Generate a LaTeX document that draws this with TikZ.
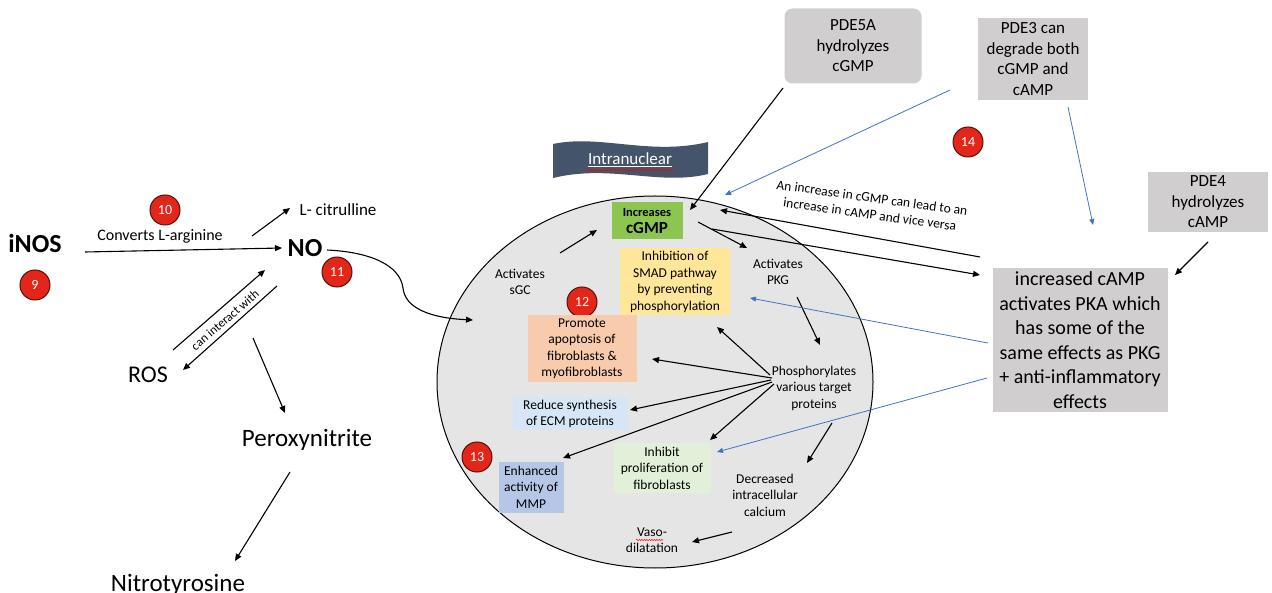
\documentclass[tikz,border=0pt]{standalone}
\usepackage{fontspec}
\setmainfont{Carlito}
\usetikzlibrary{shapes.geometric,arrows.meta,decorations.pathmorphing}
\definecolor{badgered}{RGB}{226,38,26}
\definecolor{badgeedge}{RGB}{90,15,10}
\definecolor{cellgray}{RGB}{229,229,229}
\definecolor{boxgray}{RGB}{208,206,206}
\definecolor{cgmpgreen}{RGB}{140,198,80}
\definecolor{smadyellow}{RGB}{255,230,153}
\definecolor{apoporange}{RGB}{248,203,173}
\definecolor{reduceblue}{RGB}{214,230,246}
\definecolor{mmpblue}{RGB}{180,199,231}
\definecolor{prolifgreen}{RGB}{226,240,217}
\definecolor{arrowblue}{RGB}{68,114,196}
\definecolor{banner}{RGB}{68,84,106}
\newcommand{\fsz}[2]{\fontsize{#1}{#2}\selectfont}
\begin{document}
\begin{tikzpicture}[x=1pt,y=-1pt,
  txt/.style={inner sep=0pt, align=center, text=black},
  small/.style={txt, font=\fsz{13.5}{16.5}},
  arr/.style={-{Triangle[length=7pt,width=6pt]}, line width=1.1pt},
  barr/.style={-{Triangle[length=6pt,width=5pt]}, line width=0.8pt, draw=arrowblue},
  badge/.style={circle, fill=badgered, draw=badgeedge, line width=1pt, minimum size=30pt, inner sep=0pt, text=white, font=\fsz{14}{14}},
  gbox/.style={txt, fill=boxgray, font=\fsz{17}{20.5}}
]
\useasboundingbox (0,0) rectangle (1272,593);

% ---------- left part ----------
\node[txt, font=\fsz{26}{26}\bfseries] (inos) at (35,243) {iNOS};
\node[badge] (b9) at (35,285) {9};
\node[badge] (b10) at (165,210) {10};
\node[txt, font=\fsz{16}{16}] (conv) at (160,236) {Converts L-arginine};
\node[txt, font=\fsz{26}{26}\bfseries] (no) at (305,248) {NO};
\node[txt, font=\fsz{17}{17}] (cit) at (338,210) {L- citrulline};
\node[badge] (b11) at (337,272) {11};
\node[txt, font=\fsz{24}{24}] (ros) at (148,375) {ROS};
\node[txt, font=\fsz{25}{25}] (perox) at (307,440) {Peroxynitrite};
\node[txt, font=\fsz{25}{25}, anchor=base] (nitro) at (178,591) {Nitrotyrosine};
\node[txt, font=\fsz{12.5}{12.5}, rotate=41] (inter) at (225,320) {can interact with};

\draw[arr] ([shift={(50,9)}]inos.center) -- ([shift={(-23,0)}]no.center);
\draw[arr] ([shift={(92,0)}]conv.center) -- ([shift={(-48,-2)}]cit.center);
\draw[arr] ([shift={(25,-25)}]ros.center) -- ([shift={(-40,22)}]no.center);
\draw[arr] ([shift={(-28,38)}]no.center) -- ([shift={(35,-5)}]ros.center);
\draw[arr] ([shift={(-52,90)}]no.center) -- ([shift={(-22,-27)}]perox.center);
\draw[arr] ([shift={(-17,32)}]perox.center) -- ([shift={(57,-30)}]nitro.base);

% ---------- cell ----------
\node[ellipse, draw, fill=cellgray, line width=1pt, minimum width=436pt, minimum height=372pt, inner sep=0pt] (cell) at (655,382) {};

\fill[banner] (553,144) .. controls (600,134) and (650,156) .. (708,142) -- (708,174) .. controls (660,186) and (610,164) .. (553,178) -- cycle;
\node[txt, text=white, font=\fsz{17}{17}] (intra) at (630,160) {\underline{Intranuclear}};
\draw[red, line width=0.6pt, decorate, decoration={snake, amplitude=0.7pt, segment length=3pt}] ([shift={(-44,10)}]intra.center) -- ([shift={(44,10)}]intra.center);

\draw[arr] ([shift={(22,2)}]no.center) .. controls (370,252) and (400,265) .. (403,288) .. controls (405,308) and (430,318) .. ([shift={(-182,-62)}]cell.center);

\node[txt, fill=cgmpgreen, minimum width=71pt, minimum height=37pt, font=\fsz{17}{17}\bfseries] (cgmp) at (647,221) {{\fsz{12.5}{14}Increases}\\cGMP};
\node[small] (sgc) at (520,282) {Activates\\sGC};
\node[small, fill=smadyellow, minimum width=110pt, minimum height=67pt] (smad) at (675,282) {Inhibition of\\SMAD pathway\\by preventing\\phosphorylation};
\node[small] (pkg) at (778,272) {Activates\\PKG};
\node[badge] (b12) at (582,302) {12};
\node[small, fill=apoporange, minimum width=109pt, minimum height=67pt] (apop) at (582,349) {Promote\\apoptosis of\\fibroblasts \&\\myofibroblasts};
\node[small] (phos) at (814,388) {Phosphorylates\\various target\\proteins};
\node[small, fill=reduceblue, minimum width=115pt, minimum height=33pt] (reduce) at (570,414) {Reduce synthesis\\of ECM proteins};
\node[badge] (b13) at (477,457) {13};
\node[small, fill=mmpblue, minimum width=65pt, minimum height=51pt] (mmp) at (531,487) {Enhanced\\activity of\\MMP};
\node[small, fill=prolifgreen, minimum width=97pt, minimum height=50pt] (prolif) at (662,468) {Inhibit\\proliferation of\\fibroblasts};
\node[small] (calc) at (765,495) {Decreased\\intracellular\\calcium};
\node[small] (vaso) at (652,540) {Vaso-\\dilatation};
\draw[red, line width=0.5pt, decorate, decoration={snake, amplitude=0.6pt, segment length=2.5pt}] ([shift={(-16,0)}]vaso.center) -- ([shift={(11,0)}]vaso.center);

\draw[arr] ([shift={(40,-29)}]sgc.center) -- ([shift={(-50,9)}]cgmp.center);
\draw[arr] ([shift={(51,1)}]cgmp.center) -- ([shift={(-31,-24)}]pkg.center);
\draw[arr] ([shift={(19,25)}]pkg.center) -- ([shift={(6,-43)}]phos.center);
\draw[arr] ([shift={(-44,-13)}]phos.center) -- ([shift={(42,45)}]smad.center);
\draw[arr] ([shift={(-42,-10)}]phos.center) -- ([shift={(70,10)}]apop.center);
\draw[arr] ([shift={(-43,-8)}]phos.center) -- ([shift={(60,-4)}]reduce.center);
\draw[arr] ([shift={(-42,-6)}]phos.center) -- ([shift={(32,-29)}]mmp.center);
\draw[arr] ([shift={(-40,-4)}]phos.center) -- ([shift={(48,-28)}]prolif.center);
\draw[arr] ([shift={(18,35)}]phos.center) -- ([shift={(42,-32)}]calc.center);
\draw[arr] ([shift={(-33,37)}]calc.center) -- ([shift={(40,2)}]vaso.center);

% ---------- right part ----------
\node[gbox, rounded corners=8pt, minimum width=137pt, minimum height=75pt] (pde5) at (853,46) {PDE5A\\hydrolyzes\\cGMP};
\node[gbox, minimum width=110pt, minimum height=82pt] (pde3) at (1033,59) {PDE3 can\\degrade both\\cGMP and\\cAMP};
\node[badge] (b14) at (968,142) {14};
\node[gbox, minimum width=120pt, minimum height=60pt] (pde4) at (1208,202) {PDE4\\hydrolyzes\\cAMP};
\node[txt, fill=boxgray, font=\fsz{20}{24.5}, minimum width=175pt, minimum height=144pt] (camp) at (1080,340) {increased cAMP\\activates PKA which\\has some of the\\same effects as PKG\\+ anti-inflammatory\\effects};
\node[txt, font=\fsz{13.5}{16.5}, rotate=-8] (incr) at (871,206) {An increase in cGMP can lead to an\\increase in cAMP and vice versa};

\draw[arr] ([shift={(-70,42)}]pde5.center) -- ([shift={(43,-11)}]cgmp.center);
\draw[barr] ([shift={(-83,31)}]pde3.center) -- ([shift={(78,-26)}]cgmp.center);
\draw[barr] ([shift={(35,48)}]pde3.center) -- ([shift={(13,-115)}]camp.center);
\draw[arr] ([shift={(-100,-83)}]camp.center) -- ([shift={(73,-11)}]cgmp.center);
\draw[arr] ([shift={(65,8)}]cgmp.center) -- ([shift={(-100,-65)}]camp.center);
\draw[arr] ([shift={(0,40)}]pde4.center) -- ([shift={(95,-65)}]camp.center);
\draw[barr] ([shift={(-92,3)}]camp.center) -- ([shift={(75,16)}]smad.center);
\draw[barr] ([shift={(-93,38)}]camp.center) -- ([shift={(55,-16)}]prolif.center);
\end{tikzpicture}
\end{document}
